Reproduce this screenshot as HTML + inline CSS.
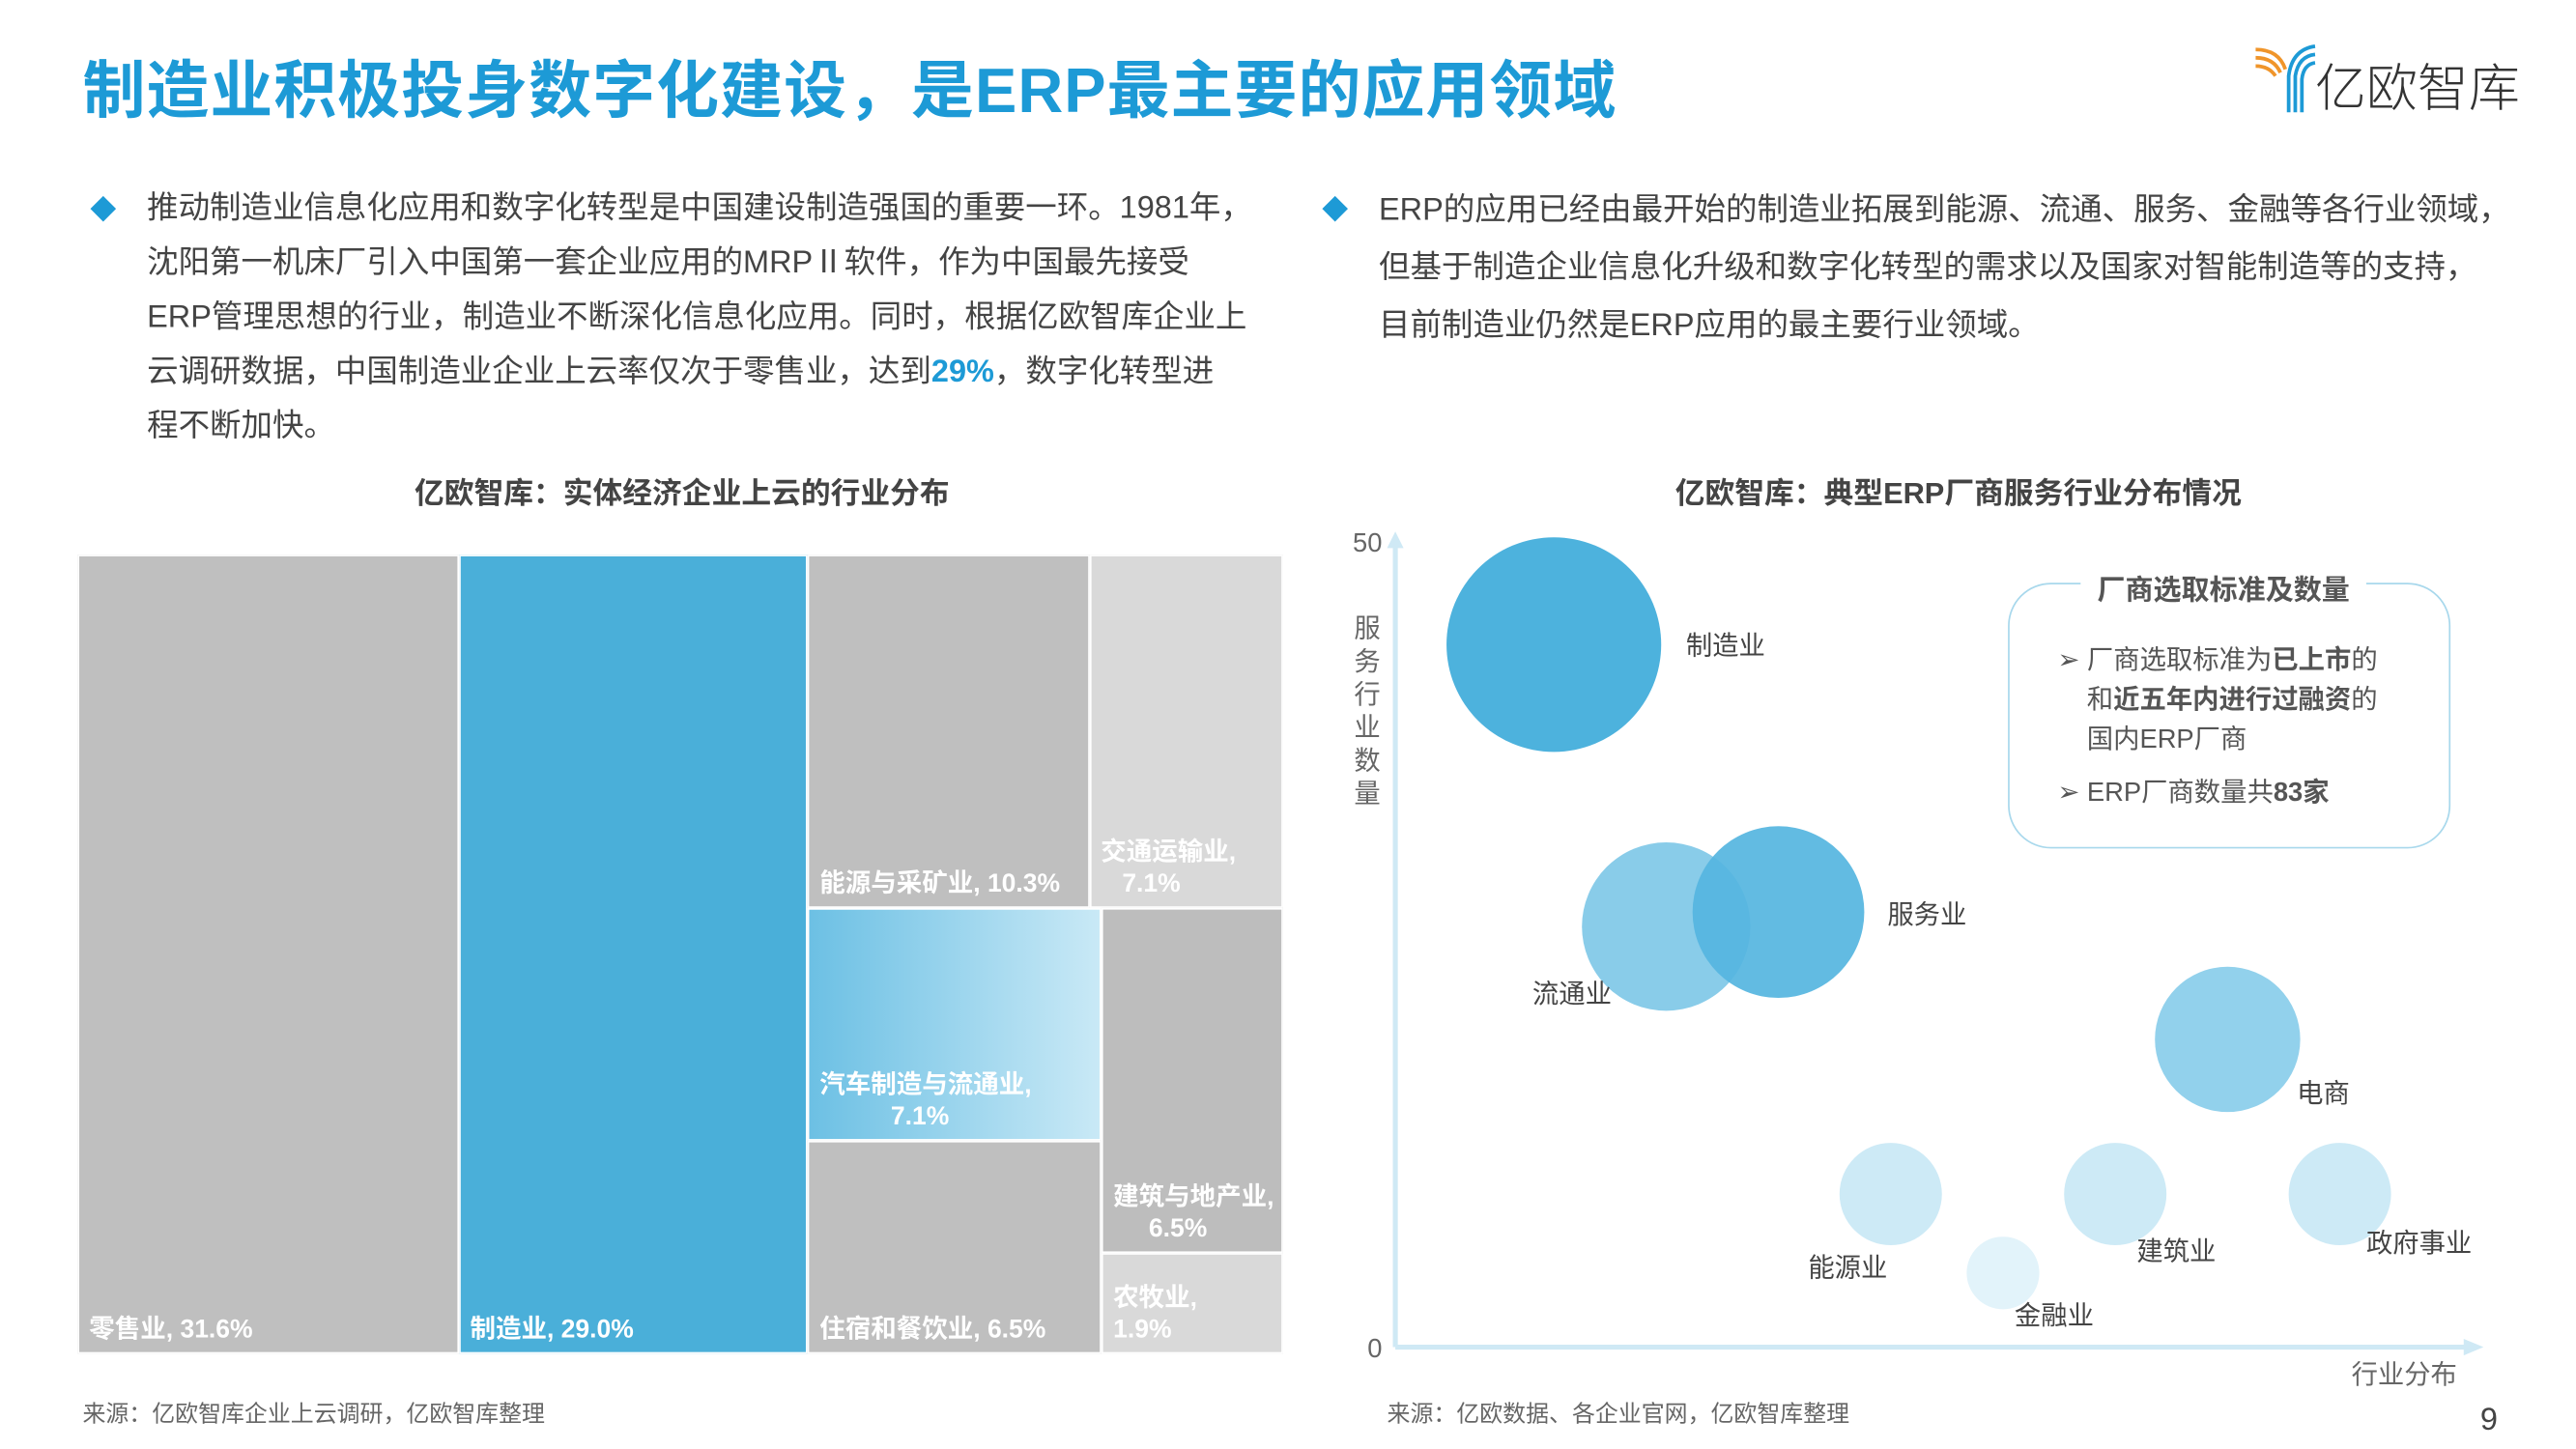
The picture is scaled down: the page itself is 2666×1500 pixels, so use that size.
<!DOCTYPE html>
<html><head><meta charset="utf-8"><style>
html,body{margin:0;padding:0;background:#fff;overflow:hidden}
body{width:2666px;height:1500px}
#stage{position:absolute;left:0;top:0;width:1560px;height:878px;transform:scale(1.70897);transform-origin:0 0;font-family:"Liberation Sans","Noto Sans CJK SC",sans-serif;color:#444}
.abs{position:absolute;white-space:nowrap}
.title{left:50px;top:24px;font-size:38px;font-weight:bold;color:#1d9ad6;letter-spacing:0.6px}
.para{font-size:19px;line-height:33px;color:#444}
.diamond{width:11px;height:11px;background:#1d9ad6;transform:rotate(45deg)}
.ctitle{font-size:18px;font-weight:bold;color:#444;transform:translateX(-50%)}
.src{font-size:14px;color:#666}
.tm{position:absolute;box-sizing:border-box;border:1px solid #fff}
.tml{position:absolute;color:#fff;font-weight:bold;font-size:15.5px;line-height:19px;white-space:nowrap}
</style></head><body>
<div id="stage">
<div class="abs title">制造业积极投身数字化建设，是ERP最主要的应用领域</div>
<svg class="abs" style="left:1362px;top:22px" width="175" height="50">
<path d="M4 8 Q18 8 22 20 M4 13 Q15 13 19 22 M4 18 Q12 18 16 24" stroke="#f0952a" stroke-width="2.2" fill="none"/>
<path d="M40 6 Q26 8 24 24 L24 46 M40 11 Q30 12 28 24 L28 46 M40 16 Q33 17 32 26 L32 46" stroke="#1d9ad6" stroke-width="2.2" fill="none"/>
<text x="40" y="42" font-size="31" fill="#333" font-family="Liberation Sans,Noto Sans CJK SC,sans-serif" font-weight="300">亿欧智库</text>
</svg>

<div class="abs diamond" style="left:57px;top:121px"></div>
<div class="abs para" style="left:89px;top:110px">推动制造业信息化应用和数字化转型是中国建设制造强国的重要一环。1981年，<br>沈阳第一机床厂引入中国第一套企业应用的MRPⅡ软件，作为中国最先接受<br>ERP管理思想的行业，制造业不断深化信息化应用。同时，根据亿欧智库企业上<br>云调研数据，中国制造业企业上云率仅次于零售业，达到<b style="color:#1d9ad6">29%</b>，数字化转型进<br>程不断加快。</div>
<div class="abs diamond" style="left:803px;top:121px"></div>
<div class="abs para" style="left:835px;top:110px;line-height:35px">ERP的应用已经由最开始的制造业拓展到能源、流通、服务、金融等各行业领域，<br>但基于制造企业信息化升级和数字化转型的需求以及国家对智能制造等的支持，<br>目前制造业仍然是ERP应用的最主要行业领域。</div>

<div class="abs ctitle" style="left:413px;top:285px">亿欧智库：实体经济企业上云的行业分布</div>
<div class="abs ctitle" style="left:1186px;top:285px">亿欧智库：典型ERP厂商服务行业分布情况</div>

<div id="treemap" class="abs" style="left:47px;top:336px;width:730px;height:484px"></div>

<svg id="bubble" class="abs" style="left:798px;top:318px" width="760" height="530"></svg>

<div class="abs" style="left:1216px;top:353px;width:268px;height:161px;box-sizing:border-box;border:1.5px solid #a8d8ec;border-radius:26px"></div>
<div class="abs" style="left:1260px;top:343px;background:#fff;padding:0 10px;font-size:17px;font-weight:bold;color:#555">厂商选取标准及数量</div>
<div class="abs" style="left:1246px;top:389px;font-size:16px;line-height:24px;color:#555">➢ 厂商选取标准为<b>已上市</b>的<br>&nbsp;&nbsp;&nbsp;&nbsp;和<b>近五年内进行过融资</b>的<br>&nbsp;&nbsp;&nbsp;&nbsp;国内ERP厂商</div>
<div class="abs" style="left:1246px;top:469px;font-size:16px;line-height:24px;color:#555">➢ ERP厂商数量共<b>83家</b></div>

<div class="abs src" style="left:50px;top:846px">来源：亿欧智库企业上云调研，亿欧智库整理</div>
<div class="abs src" style="left:840px;top:846px">来源：亿欧数据、各企业官网，亿欧智库整理</div>
<div class="abs" style="left:1502px;top:850px;font-size:19px;color:#444">9</div>
</div>

<script>
// ---- Treemap data ----
const tmNames = ["零售业","制造业","能源与采矿业","交通运输业","汽车制造与流通业","住宿和餐饮业","建筑与地产业","农牧业"];
const tmValues = [31.6,29.0,10.3,7.1,7.1,6.5,6.5,1.9];
const tmLabels = ["零售业, 31.6%","制造业, 29.0%","能源与采矿业, 10.3%","交通运输业,<br>&nbsp;&nbsp;&nbsp;7.1%","汽车制造与流通业,<br>&nbsp;&nbsp;&nbsp;&nbsp;&nbsp;&nbsp;&nbsp;&nbsp;&nbsp;&nbsp;7.1%","住宿和餐饮业, 6.5%","建筑与地产业,<br>&nbsp;&nbsp;&nbsp;&nbsp;&nbsp;6.5%","农牧业,<br>1.9%"];
const tmFills = ["#bfbfbf","#4aafd9","#bfbfbf","#d9d9d9","linear-gradient(90deg,#6cc0e4,#c9e9f6)","#bfbfbf","#bdbdbd","#d9d9d9"];

// ---- Bubble data ----
const bNames = ["制造业","流通业","服务业","能源业","金融业","建筑业","电商","政府事业"];
const bX = [0,1,2,3,4,5,6,7];
const bY = [43.6,26.1,27.0,9.5,4.6,9.5,19.1,9.5];
const bSize = [13,10.2,10.4,6.2,4.4,6.2,8.8,6.2];
const bColors = ["#4db2dd","#7cc6e7","#55b5df","#cdeaf6","#e2f3fa","#cdeaf6","#92d1ec","#cdeaf6"];
const yTicks = [0,50];

(function(){
  const tm = document.getElementById('treemap');
  const W=730,H=484;
  const total = tmValues.reduce((a,b)=>a+b,0);
  const rects=[];
  const w0=W*tmValues[0]/total, w1=W*tmValues[1]/total;
  rects[0]=[0,0,w0,H]; rects[1]=[w0,0,w1,H];
  const rx=w0+w1, rw=W-rx, rest=total-tmValues[0]-tmValues[1];
  const topSum=tmValues[2]+tmValues[3];
  const th=H*topSum/rest;
  const w2=rw*tmValues[2]/topSum;
  rects[2]=[rx,0,w2,th]; rects[3]=[rx+w2,0,rw-w2,th];
  const g1=tmValues[4]+tmValues[5], g2=tmValues[6]+tmValues[7];
  const bh=H-th, gw=rw*g1/(g1+g2);
  const h4=bh*tmValues[4]/g1, h6=bh*tmValues[6]/g2;
  rects[4]=[rx,th,gw,h4]; rects[5]=[rx,th+h4,gw,bh-h4];
  rects[6]=[rx+gw,th,rw-gw,h6]; rects[7]=[rx+gw,th+h6,rw-gw,bh-h6];
  rects.forEach((r,i)=>{
    const d=document.createElement('div');
    d.className='tm';
    
    
    d.style.left=r[0]+'px';d.style.top=r[1]+'px';d.style.width=r[2]+'px';d.style.height=r[3]+'px';
    d.style.background=tmFills[i];
    const l=document.createElement('div');
    l.className='tml';
    
    
    l.innerHTML=tmLabels[i];
    l.style.left='6px';l.style.bottom='4px';
    d.appendChild(l);
    tm.appendChild(d);
  });
})();

(function(){
  const svg=document.getElementById('bubble');
  const NS='http://www.w3.org/2000/svg';
  const ox=47, y0=498, y50=10;
  const ys=v=>y0-(v-0)*(y0-y50)/50;
  const xs=i=>143+68*i;
  function el(t,a,name){const e=document.createElementNS(NS,t);for(const k in a)e.setAttribute(k,a[k]);
    
    
    svg.appendChild(e);return e;}
  el('line',{x1:ox,y1:y0,x2:ox,y2:8,stroke:'#cfe9f5','stroke-width':3},'y-axis');
  el('path',{d:`M${ox-5} 14 L${ox} 4 L${ox+5} 14 Z`,fill:'#cfe9f5'},'y-axis-arrow');
  el('line',{x1:ox,y1:y0,x2:700,y2:y0,stroke:'#cfe9f5','stroke-width':3},'x-axis');
  el('path',{d:`M694 ${y0-5} L706 ${y0} L694 ${y0+5} Z`,fill:'#cfe9f5'},'x-axis-arrow');
  yTicks.forEach(t=>{const e=el('text',{x:ox-8,y:ys(t)+6,'text-anchor':'end','font-size':16,fill:'#666'},'y-tick-label');e.textContent=t;});
  const yt=el('text',{x:30,y:68,'font-size':16,fill:'#666'},'y-axis-title');
  '服务行业数量'.split('').forEach((c,i)=>{const s=document.createElementNS(NS,'tspan');s.setAttribute('x',22);s.setAttribute('dy',i?20:0);s.textContent=c;yt.appendChild(s);});
  const xt=el('text',{x:626,y:520,'font-size':16,fill:'#666'},'x-axis-title');xt.textContent='行业分布';
  const ldx=[80,-81,66,-50,7,13,42,16];
  const ldy=[6,46,7,50,31,40,38,35];
  bNames.forEach((n,i)=>{
    const cx=xs(bX[i]),cy=ys(bY[i]),r=bSize[i]*5;
    el('circle',{cx:cx,cy:cy,r:r,fill:bColors[i],'fill-opacity':i==1?0.9:(i==2?0.92:1)},'bubble-'+i);
  });
  bNames.forEach((n,i)=>{
    const cx=xs(bX[i]),cy=ys(bY[i]);
    const t=el('text',{x:cx+ldx[i],y:cy+ldy[i],'font-size':16,fill:'#444'},'bubble-label');t.textContent=n;
  });
})();
</script>
</body></html>
